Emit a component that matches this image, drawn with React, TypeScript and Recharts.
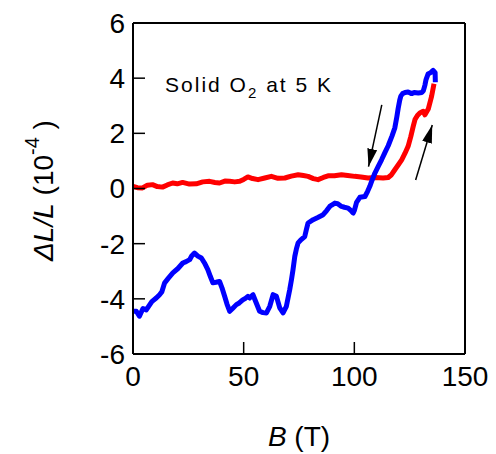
import { LineChart, Line, XAxis, YAxis, ReferenceLine, ReferenceDot } from 'recharts';

// up sweep (red), field in T and dL/L in 1e-4
const redB = [0, 2, 4.3, 6.5, 8.8, 11, 13.3, 15.5, 17.9, 20, 22.4, 25.5, 28.6, 31.5, 34.6, 37, 39.1, 41.5, 43.7, 46, 48.2, 50, 51.9, 54, 56.5, 59.5, 62.5, 65.5, 68.6, 71.5, 74.6, 77, 79.1, 81.5, 83.6, 86, 88.1, 91, 94.2, 97, 100.2, 103, 106.2, 109.5, 113, 115.3, 116.8, 118.3, 119.8, 121.4, 122.9, 124.3, 125.5, 126.6, 127.4, 128.5, 129.6, 131.1, 131.9, 133.4, 134.9, 136];
const redL = [0.08, 0.03, 0.02, 0.12, 0.14, 0.07, 0.05, 0.13, 0.2, 0.17, 0.22, 0.16, 0.17, 0.24, 0.26, 0.22, 0.2, 0.27, 0.26, 0.24, 0.26, 0.33, 0.42, 0.36, 0.32, 0.38, 0.44, 0.37, 0.38, 0.45, 0.5, 0.47, 0.44, 0.36, 0.32, 0.4, 0.46, 0.46, 0.5, 0.47, 0.44, 0.42, 0.38, 0.4, 0.38, 0.4, 0.5, 0.68, 0.85, 1.04, 1.28, 1.53, 1.88, 2.25, 2.5, 2.65, 2.74, 2.8, 2.67, 2.88, 3.34, 3.8];

// down sweep (blue)
const blueB = [136.6, 136.5, 135.6, 134.5, 133.3, 132.4, 131.9, 131.2, 130.5, 128.9, 127, 125.9, 124.3, 122.9, 121.8, 121, 120.5, 119.8, 119.2, 118.3, 117, 115.3, 113.8, 112.3, 110.8, 109.3, 108, 107, 106, 104.8, 102.5, 101, 100, 99.5, 98.5, 97.2, 95.5, 94.2, 92.5, 91.2, 89.8, 88.9, 87.5, 85.9, 83.5, 81.4, 79.1, 78.3, 77.6, 76, 74.6, 73.8, 73.1, 72.3, 71.6, 70.8, 69.3, 67.8, 66.3, 64.8, 63.3, 61.8, 60.3, 58.7, 57.2, 55.7, 54.2, 52.7, 51.9, 50.5, 49.7, 48, 46.7, 45, 43.7, 42.5, 41.4, 40.2, 39.1, 37.5, 36.1, 35, 33.8, 32.3, 30.9, 29.3, 27.8, 26.5, 25.6, 24, 22.5, 20.3, 18, 16, 14.3, 13, 12, 10.5, 8.5, 6, 4.5, 2.9, 1.5, 0];
const blueL = [3.85, 4.2, 4.28, 4.2, 4.15, 3.95, 3.75, 3.55, 3.48, 3.46, 3.48, 3.44, 3.5, 3.48, 3.44, 3.35, 3.2, 2.9, 2.6, 2.2, 1.9, 1.55, 1.3, 1.04, 0.8, 0.56, 0.3, 0.08, -0.1, -0.29, -0.32, -0.5, -0.8, -0.89, -0.8, -0.71, -0.68, -0.65, -0.55, -0.53, -0.6, -0.65, -0.8, -0.95, -1.05, -1.13, -1.25, -1.5, -1.74, -1.85, -1.97, -2.2, -2.46, -2.94, -3.3, -3.67, -4.27, -4.51, -4.33, -3.91, -3.85, -4.27, -4.51, -4.5, -4.45, -4.15, -3.85, -3.97, -3.91, -4.0, -4.03, -4.15, -4.21, -4.35, -4.45, -4.2, -3.91, -3.6, -3.37, -3.4, -3.42, -3.2, -2.94, -2.7, -2.52, -2.45, -2.34, -2.45, -2.58, -2.65, -2.7, -2.9, -3.06, -3.25, -3.42, -3.75, -3.85, -3.97, -4.1, -4.4, -4.35, -4.63, -4.45, -4.45];

const xTicks = [0, 50, 100, 150];
const yTicks = [-6, -4, -2, 0, 2, 4, 6];

// sweep direction arrows, tail -> tip
const arrowDown = [{ x: 112.4, y: 3.03 }, { x: 106.4, y: 0.79 }];
const arrowUp = [{ x: 127.7, y: 0.31 }, { x: 135.2, y: 2.3 }];
const notePos = { x: 14.5, y: 3.5 };

const redData = redB.map((b, i) => ({ b, l: redL[i] }));
const blueData = blueB.map((b, i) => ({ b, l: blueL[i] }));

const axisLine = { stroke: '#000', strokeWidth: 2 };
const tickLine = { stroke: '#000', strokeWidth: 1.5 };
const tickFont = { fill: '#000', fontSize: 28 };

export default function App() {
  return (
    <div style={{ position: 'absolute', left: 0, top: 0, fontFamily: 'Liberation Sans, Arial, sans-serif' }}>
      <LineChart width={496} height={454} margin={{ top: 13, right: 21, bottom: 30, left: 33 }}>
        <defs>
          <marker id="arrowhead" markerWidth={18} markerHeight={10} refX={18} refY={5} orient="auto" markerUnits="userSpaceOnUse">
            <path d="M0,0 L18,5 L0,10 z" fill="#000" />
          </marker>
        </defs>
        <XAxis
          type="number"
          dataKey="b"
          domain={[0, 150]}
          ticks={xTicks}
          interval={0}
          height={70}
          tickSize={-12}
          tickMargin={24}
          axisLine={axisLine}
          tickLine={tickLine}
          tick={tickFont}
          label={{
            content: (p: any) => {
              const { x, y, width } = p.viewBox;
              return (
                <text x={x + width / 2} y={y + 92} textAnchor="middle" fontSize={28} fill="#000">
                  <tspan fontStyle="italic">B</tspan> (T)
                </text>
              );
            },
          }}
        />
        <XAxis
          xAxisId="top"
          orientation="top"
          type="number"
          domain={[0, 150]}
          ticks={xTicks}
          interval={0}
          height={10}
          tickSize={-12}
          tickFormatter={() => ''}
          axisLine={axisLine}
          tickLine={tickLine}
        />
        <YAxis
          type="number"
          domain={[-6, 6]}
          ticks={yTicks}
          interval={0}
          width={100}
          tickSize={-12}
          tickMargin={20}
          axisLine={axisLine}
          tickLine={tickLine}
          tick={tickFont}
          label={{
            content: (p: any) => {
              const { x, y, height } = p.viewBox;
              const lx = x + 20;
              const ly = y + height / 2 + 2;
              return (
                <text x={lx} y={ly} transform={`rotate(-90 ${lx} ${ly})`} textAnchor="middle" fontSize={28} fill="#000">
                  <tspan fontStyle="italic">ΔL/L</tspan> (10
                  <tspan fontSize={20} dy={-14}>-4</tspan>
                  <tspan dy={14}> )</tspan>
                </text>
              );
            },
          }}
        />
        <YAxis
          yAxisId="right"
          orientation="right"
          type="number"
          domain={[-6, 6]}
          ticks={yTicks}
          interval={0}
          width={10}
          tickSize={-12}
          tickFormatter={() => ''}
          axisLine={axisLine}
          tickLine={tickLine}
        />
        <Line data={redData} dataKey="l" type="linear" stroke="#ff0000" strokeWidth={5} dot={false} isAnimationActive={false} strokeLinejoin="round" />
        <Line data={blueData} dataKey="l" type="linear" stroke="#0000ff" strokeWidth={5} dot={false} isAnimationActive={false} strokeLinejoin="round" />
        <ReferenceLine segment={arrowDown} stroke="#000" strokeWidth={1.5} markerEnd="url(#arrowhead)" />
        <ReferenceLine segment={arrowUp} stroke="#000" strokeWidth={1.5} markerEnd="url(#arrowhead)" />
        <ReferenceDot
          x={notePos.x}
          y={notePos.y}
          r={1}
          fill="none"
          stroke="none"
          label={{
            content: (p: any) => {
              const { x, y, width, height } = p.viewBox;
              return (
                <text x={x + width / 2} y={y + height / 2} fontSize={21} letterSpacing={2} fill="#000">
                  Solid O<tspan fontSize={15} dy={6}>2</tspan>
                  <tspan dy={-6}> at 5 K</tspan>
                </text>
              );
            },
          }}
        />
      </LineChart>
    </div>
  );
}
